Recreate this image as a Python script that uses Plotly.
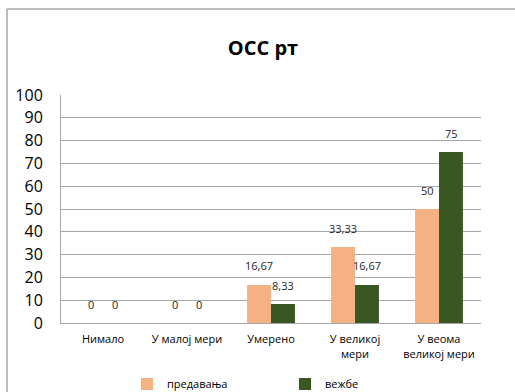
import plotly.graph_objects as go

categories = ["Нимало", "У малој мери", "Умерено", "У великој<br>мери", "У веома<br>великој мери"]
predavanja = [0, 0, 16.67, 33.33, 50]
vezbe = [0, 0, 8.33, 16.67, 75]
series_names = ["предавања", "вежбе"]
colors = ["#F4B183", "#385723"]
title_text = "ОСС рт"

FONT = "Open Sans"

def fmt(v):
    if float(v).is_integer():
        return str(int(v))
    return f"{v:.2f}".replace(".", ",")

fig = go.Figure()
for name, vals, col in zip(series_names, [predavanja, vezbe], colors):
    fig.add_trace(go.Bar(x=categories, y=vals, name=name, marker=dict(color=col, line=dict(width=0))))

annotations = []
for vals, shift in zip([predavanja, vezbe], [-12, 12]):
    for c, v in zip(categories, vals):
        annotations.append(dict(x=c, y=v, xref="x", yref="y", text=fmt(v), showarrow=False,
                                xshift=shift, yshift=19, yanchor="middle",
                                font=dict(family=FONT, size=11, color="#262626")))

shapes = [
    dict(type="line", xref="paper", yref="paper", x0=(7 - 61) / 420, x1=(515 - 61) / 420,
         y0=(323 - 9) / 228, y1=(323 - 9) / 228, line=dict(color="#a6a6a6", width=1.5)),
    dict(type="line", xref="paper", yref="paper", x0=(7 - 61) / 420, x1=(7 - 61) / 420,
         y0=(323 - 9) / 228, y1=(323 - 400) / 228, line=dict(color="#a6a6a6", width=1.5)),
]

fig.update_layout(
    width=515, height=392,
    margin=dict(l=61, r=34, t=95, b=69, autoexpand=False),
    paper_bgcolor="white", plot_bgcolor="white",
    barmode="group", bargap=0.43, bargroupgap=0,
    font=dict(family=FONT, color="#000000"),
    title=dict(text="<b>" + title_text + "</b>", xref="container", yref="container",
               x=263 / 515, y=1 - 48 / 392, xanchor="center", yanchor="middle",
               font=dict(family=FONT, size=20, color="#000000")),
    showlegend=True,
    legend=dict(orientation="h", xref="container", x=127 / 515, xanchor="left",
                yref="container", y=1 - 384 / 392, yanchor="middle",
                entrywidth=113, entrywidthmode="pixels",
                font=dict(family=FONT, size=11, color="#000000"),
                itemwidth=30, bgcolor="rgba(0,0,0,0)", tracegroupgap=0),
    annotations=annotations,
    shapes=shapes,
)
fig.update_yaxes(range=[0, 100], dtick=10, showgrid=True, gridcolor="#a6a6a6", gridwidth=1,
                 showline=True, linecolor="#a6a6a6", linewidth=1, zeroline=False, automargin=False,
                 ticks="", ticklabelstandoff=14, tickfont=dict(family=FONT, size=16, color="#000000"))
fig.update_xaxes(showline=True, linecolor="#a6a6a6", linewidth=1, ticks="", automargin=False,
                 ticklabelstandoff=6, tickfont=dict(family=FONT, size=11, color="#000000"))

fig.write_html("out.html", config={"displayModeBar": False},
               post_script="document.body.style.margin='0px';document.body.style.overflow='hidden';")
